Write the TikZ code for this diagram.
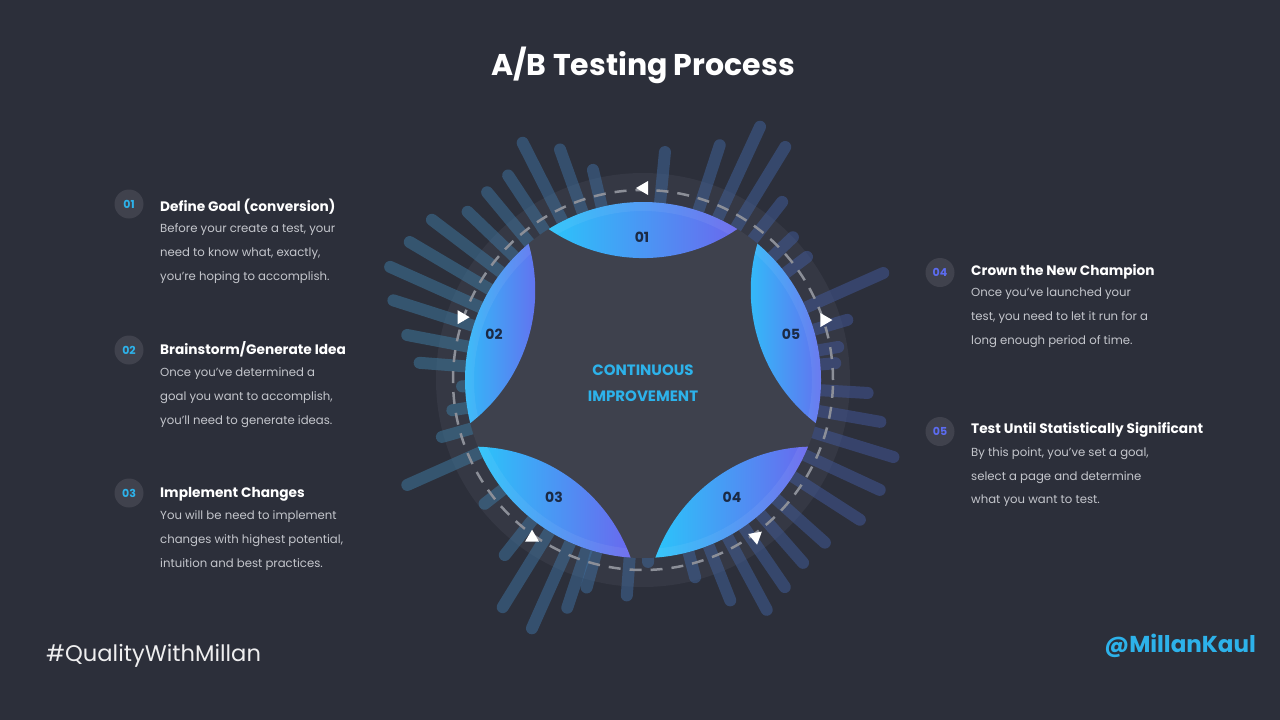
\documentclass[tikz,border=0pt]{standalone}
\usepackage{fontspec}
\setmainfont{Poppins}
\usetikzlibrary{calc}

\definecolor{bg}{RGB}{44,47,58}
\definecolor{halo}{RGB}{53,56,68}
\definecolor{disk}{RGB}{62,65,77}
\definecolor{petalL}{RGB}{43,196,250}
\definecolor{petalR}{RGB}{106,104,238}
\definecolor{rayL}{RGB}{62,122,160}
\definecolor{rayR}{RGB}{66,86,152}
\definecolor{dashc}{RGB}{140,143,152}
\definecolor{numc}{RGB}{27,42,68}
\definecolor{accent}{RGB}{45,178,234}
\definecolor{accentB}{RGB}{92,108,240}
\definecolor{bodyc}{RGB}{196,198,204}
\definecolor{badgec}{RGB}{64,66,77}

\tikzset{
  ray/.style={line width=12pt, line cap=round},
  petal/.style={left color=petalL, right color=petalR},
  petalnum/.style={font=\bfseries\fontsize{14}{14}\selectfont, text=numc, inner sep=0pt},
  centertext/.style={font=\bfseries\fontsize{15}{15}\selectfont, text=accent, anchor=base, inner sep=0pt},
  badge/.style={circle, fill=badgec, minimum size=29pt, inner sep=0pt,
    font=\bfseries\fontsize{11}{11}\selectfont},
  steptitle/.style={font=\bfseries\fontsize{13.7}{16}\selectfont, text=white, anchor=base west, inner sep=0pt},
  stepbody/.style={font=\fontsize{11.7}{14}\selectfont, text=bodyc, anchor=base west, inner sep=0pt},
}

% lens-shaped petal centred on direction #1, outer radius #2
\newcommand\petalpath[1]{(#1-32:178) arc[start angle=#1-32, end angle=#1+32, radius=178]
  arc[start angle=#1-214.2, end angle=#1-145.8, radius=167.8] -- cycle}
% small white direction marker on the dashed ring
\newcommand\ringmark[3]{\fill[white, shift={(#1:#2)}, rotate=#3] (7,0) -- (-5,7) -- (-5,-7) -- cycle;}

\begin{document}
\begin{tikzpicture}[x=1pt, y=-1pt]
\useasboundingbox (0,0) rectangle (1280,720);
\fill[bg] (0,0) rectangle (1280,720);

% ---------- cycle diagram ----------
\begin{scope}[shift={(643,380)}, yscale=-1]
  \fill[halo] (0,0) circle[radius=207];
  \foreach \a/\r in {116.9/266, 109.8/245, 103.4/216, 84.5/229, 71.9/247, 65.2/279,
      58.6/273, 52/226, 43.6/207, 36.9/205, 24/263, 16.4/213, 9.6/198, 5/193,
      356.7/225, 350/241, 342.9/262, 335.1/261, 327.2/258, 318.2/244, 311.2/243,
      304.4/251, 298.3/261, 291.6/237, 284.8/204, 271.6/182, 265.7/216, 254.8/215,
      251.6/240, 245.9/272, 238.3/267, 231.7/223, 218/201, 204/258, 195.8/209,
      189/193, 182/181, 175.6/224, 169.2/240, 162.3/262, 155.9/277, 149.4/271,
      142.8/265, 136.2/243, 129.7/244, 123.4/245} {
    \pgfmathtruncatemacro\mixp{50+50*cos(\a)}
    \draw[ray, draw=rayR!\mixp!rayL, opacity=0.52] (\a:150) -- (\a:\r);
  }
  \fill[disk] (0,0) circle[radius=178];
  \draw[dashc, line width=2.5pt, dash pattern=on 12pt off 9pt] (0,0) circle[radius=190];

  \foreach \t in {90,162,234,306,18} {
    \shade[petal] \petalpath{\t};
    % lighter rim along the outer edge of each petal
    \begin{scope}
      \clip \petalpath{\t};
      \fill[white, opacity=0.06, even odd rule] (0,0) circle[radius=179] (0,0) circle[radius=169];
    \end{scope}
  }

  \ringmark{90}{192}{180}
  \ringmark{160.8}{191}{0}
  \ringmark{18.2}{192}{0}
  \ringmark{234.7}{192}{-90}
  \ringmark{306}{193}{-40}
\end{scope}

% petal numbers
\node[petalnum] (p1) at (642,237) {01};
\node[petalnum] (p2) at (494,334) {02};
\node[petalnum] (p3) at (554,497) {03};
\node[petalnum] (p4) at (732,497) {04};
\node[petalnum] (p5) at (791,334) {05};

\node[centertext] (c1) at (643,375.5) {CONTINUOUS};
\node[centertext] (c2) at (643,401.5) {IMPROVEMENT};

% ---------- heading and footer ----------
\node[font=\bfseries\fontsize{30}{30}\selectfont, text=white, anchor=base, inner sep=0pt]
  (title) at (643,75) {A/B Testing Process};
\node[font=\fontsize{22.6}{22.6}\selectfont, text=white!92!bg, anchor=base west, inner sep=0pt]
  (tag) at (46,661.5) {\#QualityWithMillan};
\node[font=\bfseries\fontsize{23}{23}\selectfont, text=accent, anchor=base east, inner sep=0pt]
  (handle) at (1256,652.5) {@MillanKaul};

% ---------- left steps ----------
\node[badge, text=accent] (n1) at (129,204) {01};
\node[steptitle] (t1) at (160,211) {Define Goal (conversion)};
\node[stepbody] (b1a) at (160,232.5) {Before your create a test, your};
\node[stepbody] (b1b) at (160,256.5) {need to know what, exactly,};
\node[stepbody] (b1c) at (160,280.5) {you’re hoping to accomplish.};

\node[badge, text=accent] (n2) at (129,350) {02};
\node[steptitle] (t2) at (160,354) {Brainstorm/Generate Idea};
\node[stepbody] (b2a) at (160,376.5) {Once you’ve determined a};
\node[stepbody] (b2b) at (160,400.5) {goal you want to accomplish,};
\node[stepbody] (b2c) at (160,424.5) {you’ll need to generate ideas.};

\node[badge, text=accent] (n3) at (129,493) {03};
\node[steptitle] (t3) at (160,497) {Implement Changes};
\node[stepbody] (b3a) at (160,519.5) {You will be need to implement};
\node[stepbody] (b3b) at (160,543.5) {changes with highest potential,};
\node[stepbody] (b3c) at (160,567.5) {intuition and best practices.};

% ---------- right steps ----------
\node[badge, text=accentB] (n4) at (940,272.5) {04};
\node[steptitle] (t4) at (971,275) {Crown the New Champion};
\node[stepbody] (b4a) at (971,296.7) {Once you’ve launched your};
\node[stepbody] (b4b) at (971,320.7) {test, you need to let it run for a};
\node[stepbody] (b4c) at (971,344.7) {long enough period of time.};

\node[badge, text=accentB] (n5) at (940,431.5) {05};
\node[steptitle] (t5) at (971,433.3) {Test Until Statistically Significant};
\node[stepbody] (b5a) at (971,456.7) {By this point, you’ve set a goal,};
\node[stepbody] (b5b) at (971,480) {select a page and determine};
\node[stepbody] (b5c) at (971,503.3) {what you want to test.};
\end{tikzpicture}
\end{document}
